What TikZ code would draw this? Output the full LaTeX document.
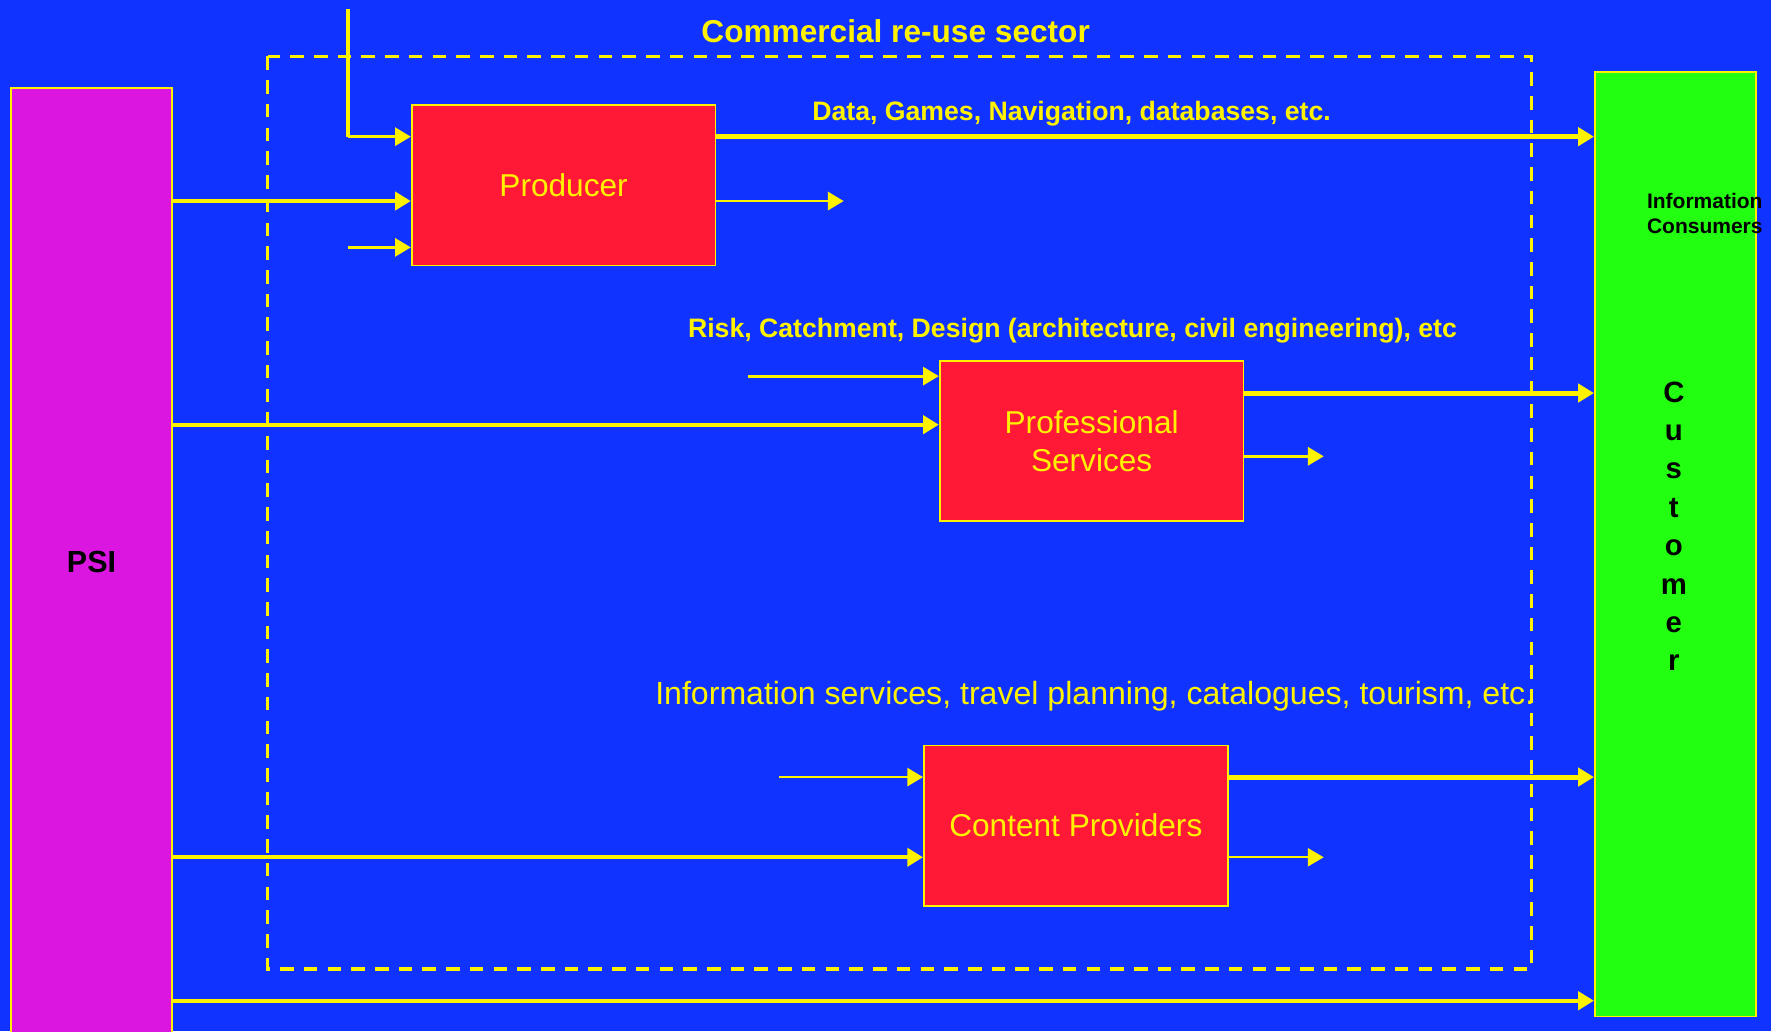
\documentclass[tikz,border=0pt]{standalone}
\usepackage{fontspec}
\setmainfont{Liberation Sans}
\usetikzlibrary{arrows.meta}

\definecolor{bgblue}{RGB}{17,51,255}
\definecolor{boxred}{RGB}{255,25,55}
\definecolor{psimag}{RGB}{218,22,224}
\definecolor{custgreen}{RGB}{34,255,17}

\tikzset{
  box/.style={draw=yellow, line width=1.5pt, fill=boxred, text=yellow,
    minimum width=269pt, minimum height=142pt, inner sep=0pt, align=center,
    font=\fontsize{28}{34}\selectfont},
  side/.style={draw=yellow, line width=1.5pt, inner sep=0pt, text=black,
    font=\bfseries\fontsize{27}{32}\selectfont},
  lab/.style={text=yellow, inner sep=0pt, font=\bfseries\fontsize{23.6}{28}\selectfont},
  arr/.style={yellow, line width=3.5pt, -{Triangle[length=14pt,width=16pt]}},
  thinarr/.style={arr, line width=2.5pt},
}

\begin{document}
\begin{tikzpicture}[x=1pt,y=-1pt]
  \fill[bgblue] (0,0) rectangle (1568,913);
  \useasboundingbox (0,0) rectangle (1568,913);

  % commercial re-use sector
  \draw[yellow, line width=3pt, dash pattern=on 12pt off 9pt]
    (237,50) rectangle (1356,858);
  \node[lab, font=\bfseries\fontsize{28}{32}\selectfont] (sector) at (793,28)
    {Commercial re-use sector};

  % the three boxes
  \node[box] (prod) at (499,164) {Producer};
  \node[box] (prof) at (966.5,390.5) {Professional\\Services};
  \node[box] (cont) at (952.5,731) {Content Providers};

  % PSI and customer
  \node[side, fill=psimag, minimum width=142pt, minimum height=840pt]
    (psi) at (81,498) {PSI};
  \node[side, fill=custgreen, minimum width=143pt, minimum height=836pt]
    (cust) at (1483.5,482) {};
  \node[anchor=west, align=left, inner sep=0pt,
    font=\bfseries\fontsize{18.6}{22}\selectfont] (info) at (1458,189)
    {Information\\Consumers};
  \foreach \l [count=\i] in {C,u,s,t,o,m,e,r}
    \node[anchor=base, inner sep=0pt, font=\bfseries\fontsize{26}{30}\selectfont]
      (cust\i) at (1482,{356+34*(\i-1)}) {\l};

  % free ends
  \coordinate (top) at (308,8);
  \coordinate (pin) at (308,219);
  \coordinate (pout) at (747,178);
  \coordinate (sin) at (662,333);
  \coordinate (sout) at (1172,404);
  \coordinate (cin) at (690,688);
  \coordinate (cout) at (1172,759);

  % producer
  \draw[arr, -] (top) -- (top |- 0,121);
  \draw[thinarr] (top |- 0,121) -- (prod.west |- 0,121);
  \draw[arr] (psi.east |- 0,178) -- (prod.west |- 0,178);
  \draw[thinarr] (pin) -- (prod.west |- pin);
  \draw[arr, line width=4.5pt] (prod.east |- 0,121) -- (cust.west |- 0,121);
  \draw[thinarr] (prod.east |- pout) -- (pout);
  \node[lab, anchor=west] (data) at (719,101)
    {Data, Games, Navigation, databases, etc.};

  % professional services
  \draw[thinarr] (sin) -- (prof.west |- sin);
  \draw[arr] (psi.east |- 0,376) -- (prof.west |- 0,376);
  \draw[arr, line width=4.5pt] (prof.east |- 0,348) -- (cust.west |- 0,348);
  \draw[thinarr] (prof.east |- sout) -- (sout);
  \node[lab, anchor=west] (risk) at (609,293)
    {Risk, Catchment, Design (architecture, civil engineering), etc};

  % content providers
  \draw[thinarr] (cin) -- (cont.west |- cin);
  \draw[arr] (psi.east |- 0,759) -- (cont.west |- 0,759);
  \draw[arr, line width=4.5pt] (cont.east |- cin) -- (cust.west |- cin);
  \draw[thinarr, line width=1.5pt] (cont.east |- cout) -- (cout);
  \node[lab, anchor=west, font=\fontsize{28.4}{32}\selectfont] (infoserv) at (580,616)
    {Information services, travel planning, catalogues, tourism, etc.};

  % straight to the customer
  \draw[arr] (psi.east |- 0,886) -- (cust.west |- 0,886);
\end{tikzpicture}
\end{document}
